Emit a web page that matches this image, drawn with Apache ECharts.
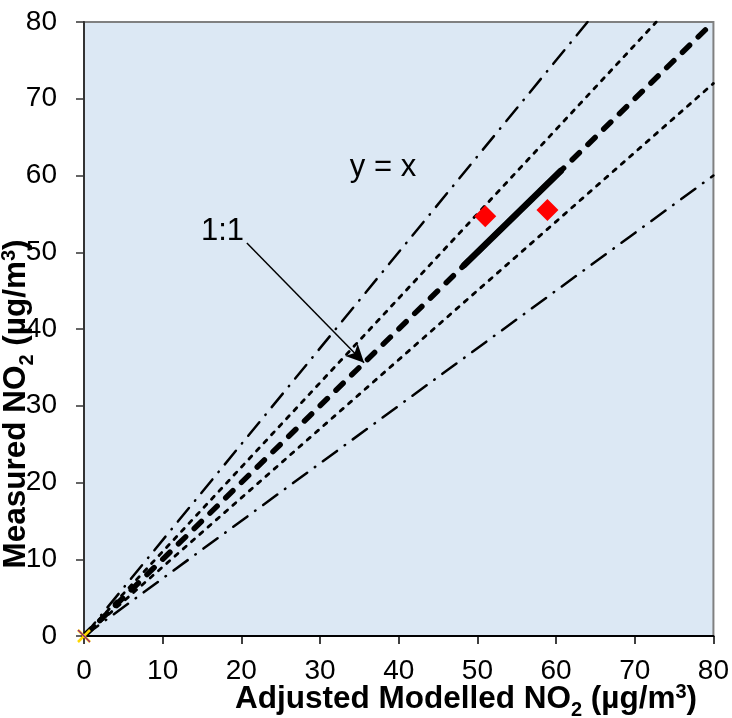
<!DOCTYPE html>
<html><head><meta charset="utf-8">
<script src="https://cdn.jsdelivr.net/npm/echarts@6/dist/echarts.min.js"></script>
<style>html,body{margin:0;padding:0;background:#fff}#c{width:732px;height:718px}</style>
</head><body><div id="c"></div>
<script>
// ---- data ----
const axisMin = 0, axisMax = 80, axisStep = 10;
const measuredPoints = [[51.0, 54.7], [58.9, 55.5]];
const originPoint = [[0, 0]];
const oneToOne = [[0, 0], [80, 80]];
const upper25 = [[0, 0], [64, 80]];
const lower25 = [[0, 0], [80, 60]];
const upper10 = [[0, 0], [72.73, 80]];
const lower10 = [[0, 0], [80, 72]];
const dataRangeLine = [[48.3, 48.3], [60.6, 60.6]];
const arrowFrom = [20.7, 51.2];
const arrowTo = [35.6, 35.6];
const noteTexts = ['y = x', '1:1'];
const notePos = [[38.0, 61.0], [17.6, 52.7]];

const FONT = "'Liberation Sans', Arial, sans-serif";
const chart = echarts.init(document.getElementById('c'), null, {renderer: 'canvas'});

function lineSeries(data, width, dash, z) {
  return {
    type: 'line', data: data, showSymbol: false, symbol: 'none', silent: true, z: z || 2,
    lineStyle: {color: '#000', width: width, type: dash, cap: 'round'}
  };
}

const titleRich = {
  a: {fontSize: 31.5, fontWeight: 'bold', fontFamily: FONT, color: '#000', lineHeight: 35},
  s: {fontSize: 20, fontWeight: 'bold', fontFamily: FONT, color: '#000', padding: [23, 0, 0, 0]},
  p: {fontSize: 20, fontWeight: 'bold', fontFamily: FONT, color: '#000', padding: [0, 0, 13, 0]}
};

chart.setOption({
  animation: false,
  backgroundColor: '#fff',
  grid: {left: 84, right: 16, top: 22, bottom: 82, show: true,
         backgroundColor: '#DCE8F4', borderColor: '#808080', borderWidth: 2},
  xAxis: {
    type: 'value', min: axisMin, max: axisMax, interval: axisStep,
    axisLine: {show: true, onZero: false, lineStyle: {color: '#000', width: 2}},
    axisTick: {show: true, length: 8, lineStyle: {color: '#000', width: 1.5}},
    axisLabel: {fontSize: 28, color: '#000', fontFamily: FONT, margin: 21},
    splitLine: {show: false}
  },
  yAxis: {
    type: 'value', min: axisMin, max: axisMax, interval: axisStep,
    axisLine: {show: true, onZero: false, lineStyle: {color: '#333', width: 2}},
    axisTick: {show: true, length: 8, lineStyle: {color: '#333', width: 1.5}},
    axisLabel: {fontSize: 28, color: '#000', fontFamily: FONT, margin: 27},
    splitLine: {show: false}
  },
  series: [
    lineSeries(upper25, 2.5, [17.5, 9.5, 0.5, 9.5]),
    lineSeries(lower25, 2.5, [17.5, 9.5, 0.5, 9.5]),
    lineSeries(upper10, 2.8, [4, 7]),
    lineSeries(lower10, 2.8, [4, 7]),
    lineSeries(oneToOne, 5.5, [10, 12], 3),
    lineSeries(dataRangeLine, 6.5, 'solid', 4),
    {
      type: 'scatter', data: measuredPoints, symbol: 'diamond', symbolSize: [22, 22], z: 5,
      itemStyle: {color: '#FF0000', opacity: 1}, silent: true
    },
    {
      type: 'scatter', data: originPoint, symbol: 'path://M0,0L10,10M10,0L0,10', symbolSize: 12, z: 6,
      itemStyle: {color: 'none', borderColor: '#FFD700', borderWidth: 2.5, opacity: 1}, silent: true
    },
    {
      type: 'scatter', data: originPoint, symbol: 'path://M0,0L10,10', symbolSize: 12, z: 7,
      itemStyle: {color: 'none', borderColor: '#8B1A8B', borderWidth: 1.2, opacity: 1}, silent: true
    },
    {
      type: 'scatter', z: 8, silent: true, symbolSize: 1,
      itemStyle: {color: 'transparent', opacity: 1},
      data: notePos.map((p, i) => ({value: p, name: noteTexts[i]})),
      label: {show: true, position: 'inside', formatter: '{b}', fontSize: 31, color: '#000',
              fontFamily: FONT, textBorderWidth: 0, opacity: 1},
      markLine: {
        silent: true, symbol: ['none', 'arrow'], symbolSize: [13, 18],
        label: {show: false},
        lineStyle: {color: '#000', width: 1.5, type: 'solid', opacity: 1},
        data: [[{coord: arrowFrom}, {coord: arrowTo}]]
      }
    }
  ],
  graphic: [
    {type: 'text', x: 466, y: 699, silent: true,
     style: {text: '{a|Adjusted Modelled NO}{s|2}{a| (µg/m}{p|3}{a|)}', rich: titleRich,
             align: 'center', verticalAlign: 'middle'}},
    {type: 'text', x: 16, y: 404, rotation: Math.PI / 2, silent: true,
     style: {text: '{a|Measured NO}{s|2}{a| (µg/m}{p|3}{a|)}', rich: titleRich,
             align: 'center', verticalAlign: 'middle'}}
  ]
});
</script></body></html>
